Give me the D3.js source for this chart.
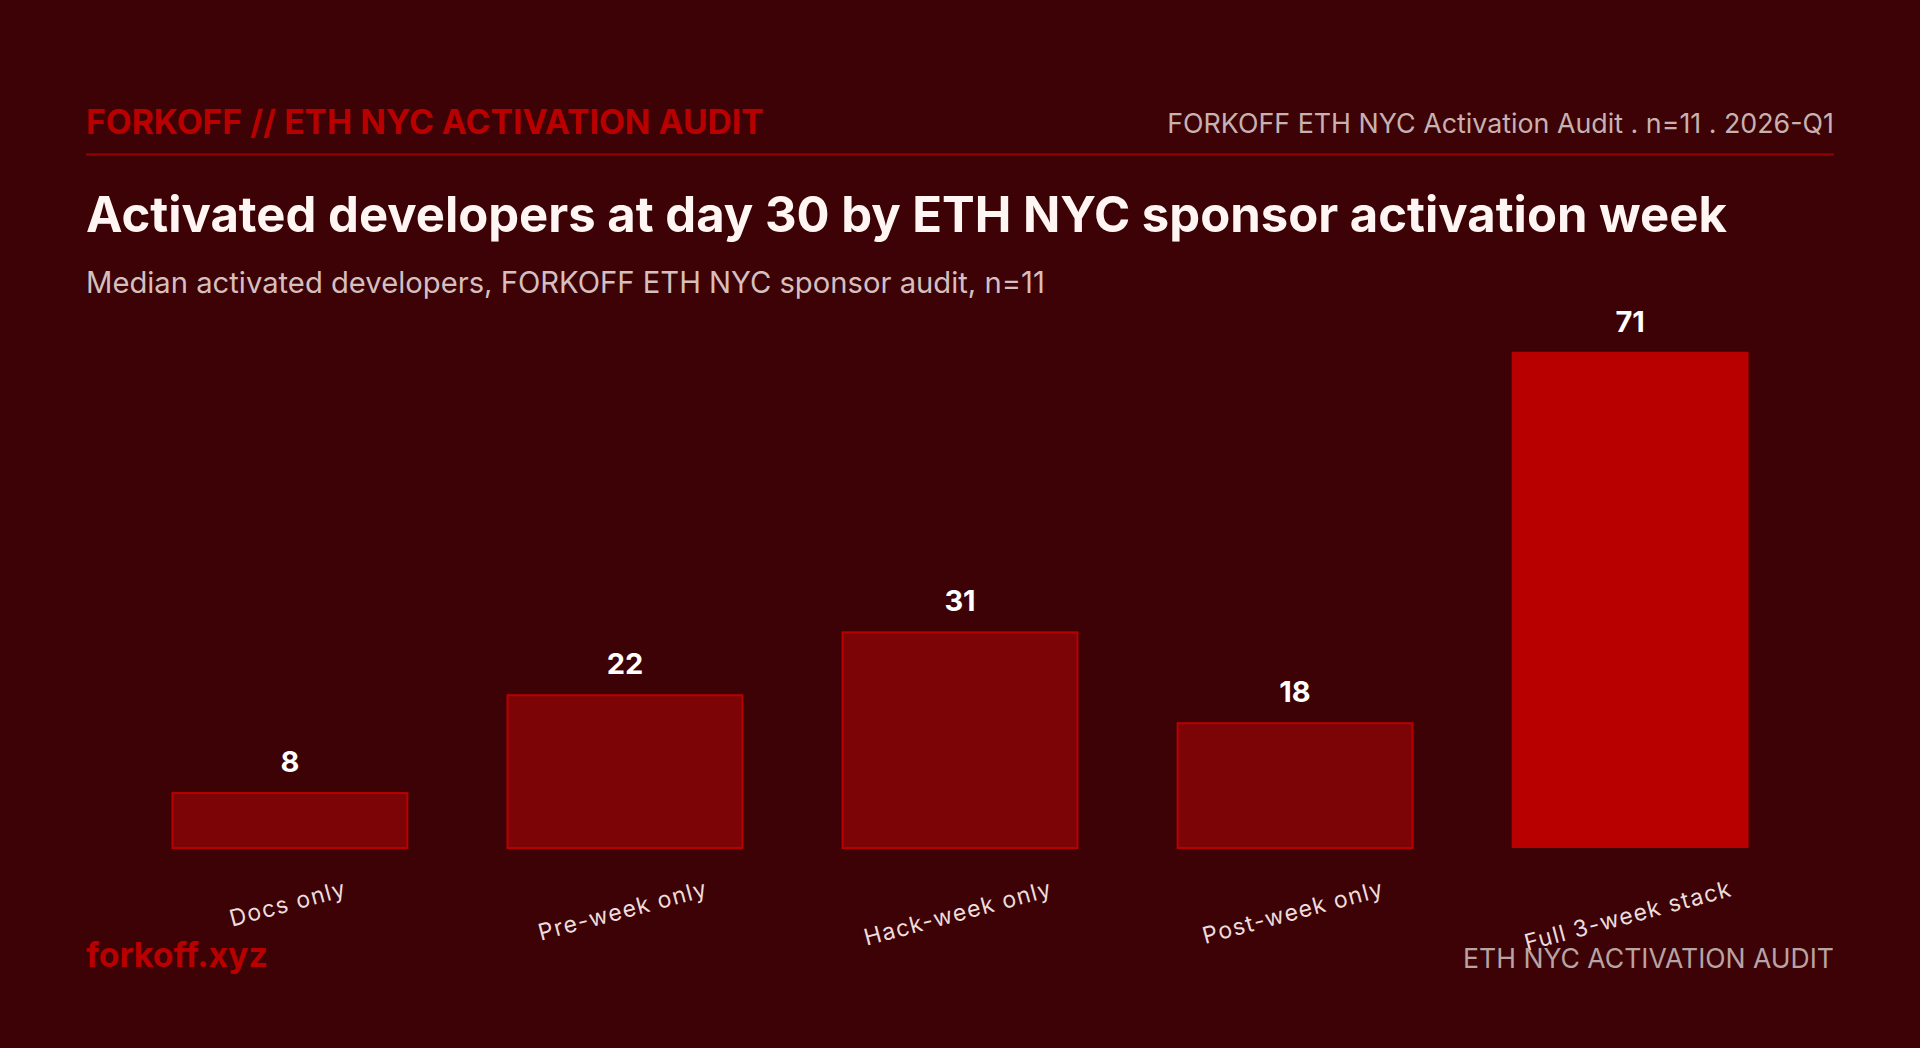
<!DOCTYPE html>
<html><head><meta charset="utf-8">
<script src="https://cdn.jsdelivr.net/npm/d3@7"></script>
<style>html,body{margin:0;padding:0;background:#3c0205;overflow:hidden}svg{display:block}</style>
</head><body>
<svg id="chart" width="1920" height="1048"></svg>
<script>
// ---- data ----
const categories = ["Docs only", "Pre-week only", "Hack-week only", "Post-week only", "Full 3-week stack"];
const values = [8, 22, 31, 18, 71];
const highlighted = [false, false, false, false, true];
const headerLeft = "FORKOFF // ETH NYC ACTIVATION AUDIT";
const headerRight = "FORKOFF ETH NYC Activation Audit . n=11 . 2026-Q1";
const titleText = "Activated developers at day 30 by ETH NYC sponsor activation week";
const subtitleText = "Median activated developers, FORKOFF ETH NYC sponsor audit, n=11";
const footerLeft = "forkoff.xyz";
const footerRight = "ETH NYC ACTIVATION AUDIT";

// ---- layout ----
const W = 1920, H = 1048;
const left = 86, right = 1834;
const svg = d3.select("#chart");
svg.append("rect").attr("width", W).attr("height", H).attr("fill", "#3c0205");

const FONT = "'Inter', 'Noto Sans', 'DejaVu Sans', sans-serif";

function fit(sel, target) {
  const fs = parseFloat(sel.attr("font-size"));
  const w = sel.node().getComputedTextLength();
  if (w > 0) sel.attr("font-size", (fs * target / w).toFixed(2));
  return sel;
}

// header
const hl = svg.append("text").attr("x", left).attr("y", 134).attr("font-family", FONT)
  .attr("font-weight", 700).attr("font-size", 29).attr("fill", "#b80000").text(headerLeft);
fit(hl, 678);
const hr = svg.append("text").attr("x", right).attr("y", 133).attr("text-anchor", "end").attr("font-family", FONT)
  .attr("font-weight", 400).attr("font-size", 25).attr("fill", "#c9b1b1").text(headerRight);
fit(hr, 667);
svg.append("line").attr("x1", left).attr("x2", right).attr("y1", 154.5).attr("y2", 154.5)
  .attr("stroke", "#8e0000").attr("stroke-width", 2.5);

// title & subtitle
const tt = svg.append("text").attr("x", left).attr("y", 232).attr("font-family", FONT)
  .attr("font-weight", 700).attr("font-size", 42).attr("fill", "#fff6f4").text(titleText);
fit(tt, 1641);
const st = svg.append("text").attr("x", left).attr("y", 293).attr("font-family", FONT)
  .attr("font-weight", 400).attr("font-size", 25).attr("fill", "#d6bfbf").text(subtitleText);
fit(st, 959);

// scales
const x = d3.scaleBand().domain(categories).range([left, right]).paddingInner(0.293).paddingOuter(0.255);
const y = d3.scaleLinear().domain([0, 78.4]).range([848, 300]);

const data = categories.map((c, i) => ({ c, v: values[i], h: highlighted[i] }));

svg.append("g").selectAll("rect").data(data).join("rect")
  .attr("x", d => x(d.c) + (d.h ? 0 : 1))
  .attr("width", d => x.bandwidth() - (d.h ? 0 : 2))
  .attr("y", d => y(d.v) + (d.h ? 0 : 1))
  .attr("height", d => y(0) - y(d.v) - (d.h ? 0 : 1))
  .attr("fill", d => d.h ? "#b80000" : "#7c0407")
  .attr("stroke", d => d.h ? "none" : "#b80000")
  .attr("stroke-width", 2);

svg.append("g").selectAll("text").data(data).join("text")
  .attr("x", d => x(d.c) + x.bandwidth() / 2)
  .attr("y", d => y(d.v) - 20)
  .attr("text-anchor", "middle").attr("font-family", FONT).attr("font-weight", 700)
  .attr("font-size", 29).attr("fill", "#ffffff").text(d => d.v);

// x axis labels (rotated, top aligned)
const ang = -15, rad = Math.abs(ang) * Math.PI / 180, lfs = 23, topY = 879;
svg.append("g").selectAll("text").data(data).join("text")
  .attr("text-anchor", "middle").attr("font-family", FONT).attr("font-size", lfs)
  .attr("letter-spacing", 1.3)
  .attr("fill", "#eddcdc").text(d => d.c)
  .each(function(d) {
    const w = this.getComputedTextLength();
    const ty = topY + (w / 2) * Math.sin(rad) + 0.75 * lfs * Math.cos(rad);
    d3.select(this).attr("transform", `translate(${x(d.c) + x.bandwidth() / 2},${ty}) rotate(${ang})`);
  });

// footer
const fl = svg.append("text").attr("x", left).attr("y", 967).attr("font-family", FONT)
  .attr("font-weight", 700).attr("font-size", 28).attr("fill", "#b80000").text(footerLeft);
fit(fl, 182);
const fr = svg.append("text").attr("x", right).attr("y", 968).attr("text-anchor", "end").attr("font-family", FONT)
  .attr("font-weight", 400).attr("font-size", 25).attr("fill", "#b9a3a3").text(footerRight);
fit(fr, 371);
</script>
</body></html>
